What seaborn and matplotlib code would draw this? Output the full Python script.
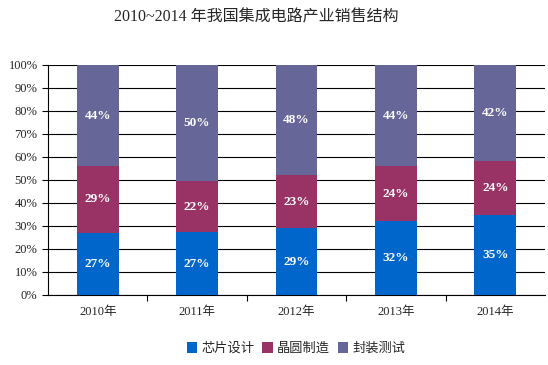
# 2010~2014 IC industry sales structure - stacked 100% bars

import numpy as np
import pandas as pd
import matplotlib
matplotlib.use("Agg")
import matplotlib.pyplot as plt
import seaborn as sns

years = ["2010年", "2011年", "2012年", "2013年", "2014年"]
design = [27, 27, 29, 32, 35]
wafer = [29, 22, 23, 24, 24]
package = [44, 50, 48, 44, 42]
series_names = ["芯片设计", "晶圆制造", "封装测试"]
colors = ["#0066CC", "#993366", "#666699"]

sns.set_theme(style="white")
plt.rcParams["font.family"] = ["Liberation Serif", "Noto Sans CJK SC"]

vals = np.array([design, wafer, package], dtype=float)
share = vals / vals.sum(axis=0) * 100
cum = np.cumsum(share, axis=0)

fig = plt.figure(figsize=(5.48, 3.65), dpi=100)
ax = fig.add_axes([0.0876, 0.192, 0.907, 0.630])

# draw the tallest layer first so lower ones sit on top
for i in [2, 1, 0]:
    df = pd.DataFrame({"year": years, "v": cum[i]})
    sns.barplot(data=df, x="year", y="v", color=colors[i], width=0.42,
                saturation=1, ax=ax, label=series_names[i], zorder=3,
                linewidth=0, edgecolor="none")

for i in range(3):
    base = cum[i] - share[i]
    for j in range(len(years)):
        ax.text(j, base[j] + share[i][j] / 2, f"{vals[i][j]:.0f}%",
                ha="center", va="center", color="white", fontsize=9.5,
                fontweight="bold", zorder=5)

ax.set_ylim(0, 100)
ax.set_xlim(-0.5, 4.5)
ax.set_yticks(range(0, 101, 10))
ax.set_yticklabels([f"{t}%" for t in range(0, 101, 10)], fontsize=9)
ax.set_xticks(range(5))
ax.set_xticklabels(years, fontsize=9)
ax.set_xticks(np.arange(0.5, 4.5, 1), minor=True)
ax.tick_params(axis="x", which="major", length=0, pad=8)
ax.tick_params(axis="x", which="minor", bottom=True, length=4, color="black", width=0.8)
ax.tick_params(axis="y", left=True, length=4, color="black", width=0.8)
ax.grid(axis="y", color="black", linewidth=0.8, zorder=0)
ax.set_axisbelow(True)
ax.set_xlabel("")
ax.set_ylabel("")
for s in ["top", "right"]:
    ax.spines[s].set_visible(False)
for s in ["left", "bottom"]:
    ax.spines[s].set_color("black")
    ax.spines[s].set_linewidth(0.8)

handles, labels = ax.get_legend_handles_labels()
if ax.get_legend() is not None:
    ax.get_legend().remove()
order = [labels.index(n) for n in series_names]
fig.legend([handles[k] for k in order], series_names, loc="center",
           bbox_to_anchor=(0.54, 0.045), ncol=3, frameon=False,
           handlelength=0.8, handleheight=0.8, handletextpad=0.3,
           columnspacing=0.6, prop={"family": "Noto Sans CJK SC", "size": 9.5})

fig.suptitle("2010~2014 年我国集成电路产业销售结构", x=0.467, y=0.975, fontsize=11.5)

fig.savefig("out.png", dpi=100)
